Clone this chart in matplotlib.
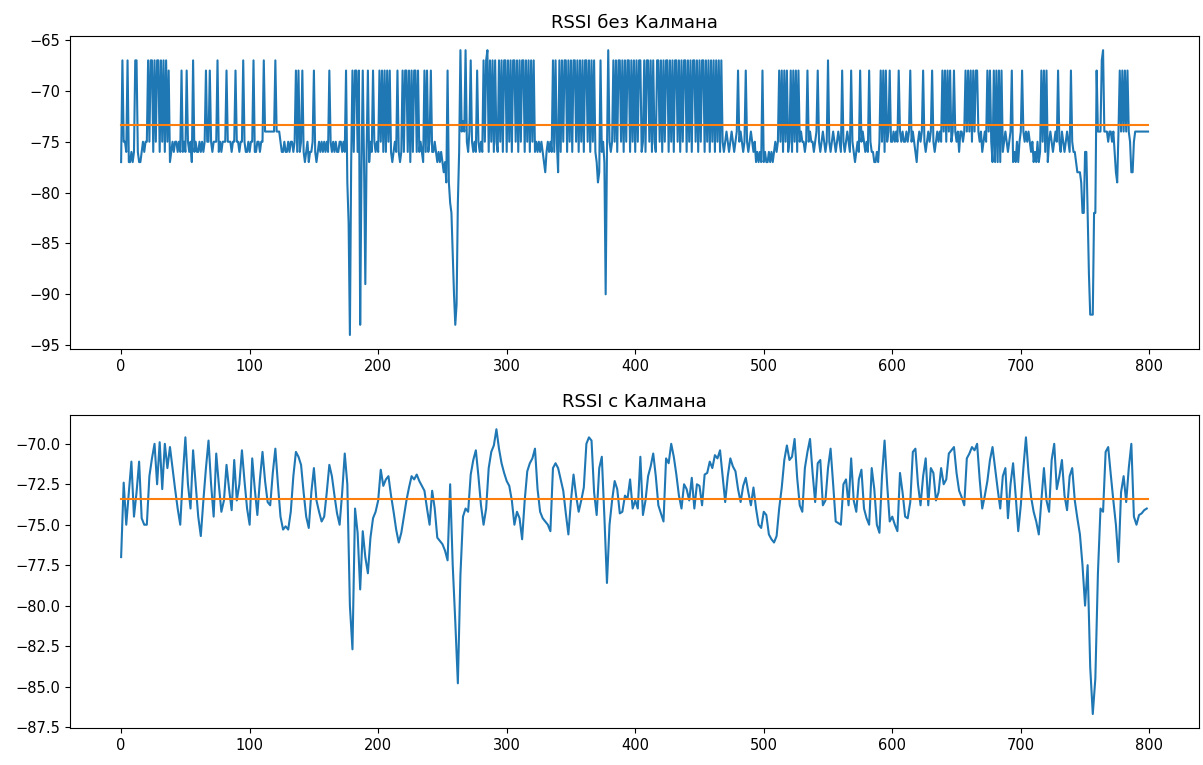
import matplotlib
matplotlib.use("Agg")
import matplotlib.pyplot as plt
import numpy as np

# raw RSSI, one sample per index (0..799)
rssi_raw = [
    -77, -67, -75, -75, -76, -67, -77, -77, -76, -77, -76, -67, -67, -76, -77, -77, -76, -75, -76, -75,
    -75, -67, -75, -67, -67, -76, -67, -75, -67, -67, -76, -67, -75, -67, -76, -67, -75, -68, -77, -76,
    -75, -76, -75, -75, -76, -75, -76, -68, -76, -75, -76, -68, -75, -76, -75, -77, -67, -76, -75, -76,
    -76, -75, -76, -75, -76, -75, -68, -75, -75, -68, -75, -76, -75, -75, -75, -67, -76, -75, -76, -75,
    -75, -75, -68, -75, -75, -75, -76, -75, -75, -68, -75, -75, -76, -75, -75, -67, -75, -76, -76, -75,
    -76, -75, -75, -67, -76, -76, -75, -75, -76, -75, -75, -67, -74, -74, -74, -74, -74, -74, -74, -74,
    -67, -74, -74, -74, -75, -76, -76, -75, -76, -76, -75, -76, -75, -75, -76, -75, -68, -76, -68, -76,
    -75, -68, -76, -77, -76, -75, -77, -76, -76, -75, -68, -76, -77, -76, -75, -76, -75, -76, -75, -76,
    -75, -76, -68, -75, -76, -75, -76, -75, -76, -76, -75, -75, -76, -75, -76, -68, -79, -83, -94, -77,
    -68, -76, -68, -68, -76, -68, -93, -78, -68, -77, -89, -76, -68, -77, -75, -76, -68, -75, -76, -75,
    -76, -68, -75, -68, -76, -68, -76, -68, -75, -68, -76, -77, -76, -75, -76, -68, -76, -77, -76, -68,
    -76, -68, -68, -76, -68, -77, -68, -76, -68, -68, -76, -68, -76, -75, -76, -77, -68, -76, -68, -76,
    -75, -68, -76, -76, -75, -76, -77, -76, -77, -76, -77, -78, -77, -79, -68, -79, -81, -82, -86, -90,
    -93, -91, -81, -76, -66, -74, -73, -74, -66, -75, -76, -74, -67, -75, -76, -75, -76, -68, -75, -76,
    -75, -76, -67, -75, -67, -66, -76, -67, -75, -67, -76, -67, -75, -76, -67, -75, -67, -76, -67, -67,
    -76, -67, -75, -67, -76, -67, -67, -75, -67, -76, -67, -75, -67, -67, -76, -67, -75, -67, -76, -67,
    -75, -67, -76, -75, -76, -75, -76, -75, -76, -77, -78, -76, -75, -76, -75, -76, -67, -76, -67, -75,
    -78, -67, -76, -67, -75, -67, -67, -76, -67, -75, -67, -76, -67, -67, -75, -67, -76, -67, -75, -67,
    -76, -67, -67, -75, -67, -76, -67, -75, -67, -76, -77, -79, -78, -67, -76, -75, -77, -90, -76, -66,
    -75, -76, -75, -67, -75, -67, -76, -67, -67, -75, -67, -76, -67, -75, -67, -67, -76, -67, -75, -67,
    -76, -67, -75, -67, -67, -76, -75, -67, -76, -67, -67, -75, -67, -76, -67, -75, -76, -67, -67, -75,
    -67, -76, -67, -75, -67, -67, -76, -67, -75, -67, -76, -67, -67, -75, -67, -76, -67, -75, -67, -67,
    -76, -67, -75, -67, -76, -67, -67, -75, -67, -76, -67, -75, -67, -67, -76, -67, -75, -67, -76, -67,
    -75, -67, -76, -67, -75, -67, -76, -67, -75, -76, -75, -74, -75, -76, -75, -74, -75, -76, -75, -74,
    -68, -75, -74, -75, -76, -75, -68, -75, -76, -75, -74, -75, -76, -75, -77, -76, -77, -76, -77, -68,
    -77, -76, -77, -77, -76, -77, -76, -77, -76, -75, -76, -75, -68, -75, -68, -76, -68, -75, -68, -76,
    -75, -68, -76, -68, -75, -68, -76, -68, -75, -74, -75, -75, -76, -75, -68, -75, -74, -75, -75, -76,
    -75, -74, -68, -75, -76, -75, -74, -75, -76, -75, -67, -75, -76, -75, -74, -75, -76, -75, -74, -75,
    -76, -68, -75, -76, -75, -74, -75, -76, -68, -75, -76, -77, -76, -75, -76, -68, -75, -74, -75, -76,
    -75, -76, -68, -75, -76, -76, -77, -77, -76, -77, -75, -68, -75, -68, -76, -68, -75, -74, -68, -75,
    -75, -74, -75, -74, -75, -68, -74, -75, -74, -75, -75, -74, -75, -74, -68, -75, -74, -75, -76, -77,
    -75, -74, -75, -74, -68, -75, -76, -75, -74, -75, -74, -68, -75, -76, -75, -74, -75, -74, -75, -68,
    -74, -68, -75, -68, -74, -68, -75, -74, -68, -74, -75, -74, -76, -74, -74, -75, -74, -68, -74, -68,
    -74, -68, -75, -68, -74, -68, -68, -74, -75, -74, -76, -75, -74, -75, -68, -74, -68, -75, -77, -68,
    -77, -68, -77, -68, -77, -68, -76, -75, -74, -75, -76, -75, -74, -68, -77, -76, -77, -75, -77, -75,
    -74, -68, -74, -75, -74, -75, -74, -75, -76, -75, -77, -76, -77, -75, -77, -76, -68, -75, -68, -76,
    -68, -77, -75, -74, -75, -76, -75, -74, -75, -68, -75, -76, -74, -75, -76, -75, -74, -75, -76, -68,
    -75, -76, -76, -77, -78, -78, -78, -79, -82, -82, -76, -76, -82, -88, -92, -92, -92, -82, -82, -68,
    -74, -74, -74, -67, -66, -74, -74, -74, -75, -74, -74, -75, -74, -76, -78, -79, -74, -68, -74, -68,
    -74, -68, -74, -68, -74, -75, -78, -78, -75, -74, -74, -74, -74, -74, -74, -74, -74, -74, -74, -74,
]

# Kalman-filtered RSSI, read every 2nd sample (0, 2, ..., 798)
kalman_step = 2
rssi_kalman = [
    -77.0, -72.4, -75.0, -73.0, -71.1, -74.5, -73.0, -71.1, -74.6, -75.0,
    -75.0, -72.0, -70.9, -70.0, -72.5, -69.9, -72.8, -70.0, -71.5, -70.2,
    -71.5, -72.8, -74.0, -75.0, -72.0, -69.6, -72.5, -74.0, -70.4, -72.5,
    -74.5, -75.7, -73.5, -71.5, -69.8, -72.5, -74.5, -70.6, -72.5, -74.2,
    -73.5, -71.3, -72.8, -74.1, -71.0, -73.5, -72.5, -70.4, -72.3, -74.0,
    -75.0, -70.9, -72.8, -74.4, -72.2, -70.5, -72.3, -73.6, -73.8, -71.8,
    -70.3, -72.5, -74.5, -75.3, -75.1, -75.3, -74.2, -72.0, -70.5, -70.8,
    -71.3, -73.0, -74.5, -75.2, -73.0, -71.5, -73.5, -74.2, -74.8, -74.5,
    -73.0, -71.3, -72.0, -73.2, -74.3, -75.0, -73.0, -70.6, -72.5, -80.0,
    -82.7, -74.0, -75.5, -79.0, -75.4, -77.0, -78.0, -75.8, -74.6, -74.2,
    -73.5, -71.6, -72.6, -72.2, -72.0, -73.2, -74.2, -75.3, -76.1, -75.5,
    -74.5, -73.5, -72.7, -72.0, -72.2, -71.9, -72.3, -72.6, -72.9, -74.0,
    -75.0, -72.9, -74.0, -75.8, -76.0, -76.2, -76.6, -77.2, -72.5, -77.5,
    -81.0, -84.8, -78.1, -74.5, -74.0, -74.2, -71.9, -71.0, -70.4, -72.0,
    -73.8, -75.0, -74.0, -71.5, -70.5, -70.1, -69.1, -70.3, -71.2, -71.8,
    -72.3, -72.6, -73.5, -75.0, -74.2, -74.6, -75.9, -73.5, -71.7, -71.2,
    -70.9, -70.3, -72.8, -74.2, -74.6, -74.8, -75.0, -75.4, -71.5, -71.2,
    -71.5, -72.2, -72.9, -74.3, -75.6, -73.5, -71.9, -73.2, -74.2, -73.5,
    -72.7, -70.0, -69.6, -69.8, -73.0, -74.4, -71.5, -70.8, -74.5, -78.6,
    -75.0, -73.5, -72.3, -72.8, -74.3, -74.2, -73.2, -73.4, -72.2, -74.0,
    -73.5, -74.0, -70.8, -74.4, -73.5, -72.0, -71.4, -70.6, -72.0, -73.8,
    -74.3, -74.8, -70.9, -71.2, -70.0, -70.8, -71.9, -73.2, -74.0, -72.5,
    -72.8, -73.5, -72.1, -74.0, -72.5, -72.6, -73.8, -71.9, -71.8, -71.1,
    -71.5, -70.7, -70.9, -70.4, -72.0, -73.6, -72.0, -70.9, -71.4, -71.7,
    -72.8, -73.6, -72.6, -72.1, -73.0, -73.8, -72.7, -74.0, -75.0, -75.2,
    -74.2, -74.4, -75.6, -75.9, -76.1, -75.7, -74.0, -72.7, -71.0, -70.1,
    -71.0, -70.8, -69.7, -72.1, -73.8, -74.2, -71.5, -70.5, -69.7, -71.8,
    -73.6, -71.2, -71.0, -73.8, -73.5, -71.5, -70.3, -72.5, -74.8, -74.9,
    -75.0, -72.5, -72.2, -73.8, -70.9, -73.5, -74.2, -72.2, -71.6, -74.0,
    -74.6, -75.0, -71.5, -72.8, -75.0, -75.5, -72.0, -69.8, -72.5, -74.8,
    -74.5, -75.0, -75.4, -71.8, -73.0, -74.5, -74.6, -73.6, -70.5, -70.3,
    -72.5, -73.8, -72.0, -70.9, -73.8, -71.5, -71.8, -73.5, -73.0, -71.5,
    -72.5, -72.2, -70.6, -70.4, -70.2, -71.8, -72.9, -73.3, -73.8, -70.9,
    -70.6, -70.2, -70.4, -70.0, -72.2, -74.0, -73.2, -72.3, -71.0, -70.2,
    -71.5, -72.8, -74.0, -72.0, -71.5, -74.6, -72.5, -71.2, -73.2, -75.4,
    -73.8, -71.5, -69.6, -71.8, -73.3, -74.2, -74.8, -75.6, -73.5, -71.5,
    -73.5, -74.2, -71.0, -70.0, -72.8, -72.0, -71.0, -73.2, -74.1, -72.0,
    -71.5, -73.5, -74.6, -75.6, -77.5, -80.0, -77.5, -83.8, -86.7, -84.5,
    -78.0, -74.0, -74.2, -70.5, -70.2, -71.9, -73.5, -75.0, -77.3, -73.0,
    -72.0, -73.6, -71.5, -70.0, -74.5, -75.0, -74.4, -74.3, -74.1, -74.0,
]

rssi_mean = -73.4
titles = ["RSSI без Калмана", "RSSI с Калмана"]

raw_x = np.arange(len(rssi_raw))
kalman_x = np.arange(len(rssi_kalman)) * kalman_step
mean_line = [rssi_mean] * len(raw_x)

fig, (ax1, ax2) = plt.subplots(2, 1, figsize=(12.03, 7.65), dpi=100)
fig.subplots_adjust(left=0.058, right=0.997, top=0.953, bottom=0.048, hspace=0.21)

ax1.plot(raw_x, rssi_raw, color="#1f77b4", linewidth=1.5)
ax1.plot(raw_x, mean_line, color="#ff7f0e", linewidth=1.5)
ax1.set_title(titles[0], fontsize=13)

ax2.plot(kalman_x, rssi_kalman, color="#1f77b4", linewidth=1.5)
ax2.plot(raw_x, mean_line, color="#ff7f0e", linewidth=1.5)
ax2.set_title(titles[1], fontsize=13)

for ax in (ax1, ax2):
    ax.tick_params(labelsize=10.5)

fig.savefig("out.png", dpi=100)
